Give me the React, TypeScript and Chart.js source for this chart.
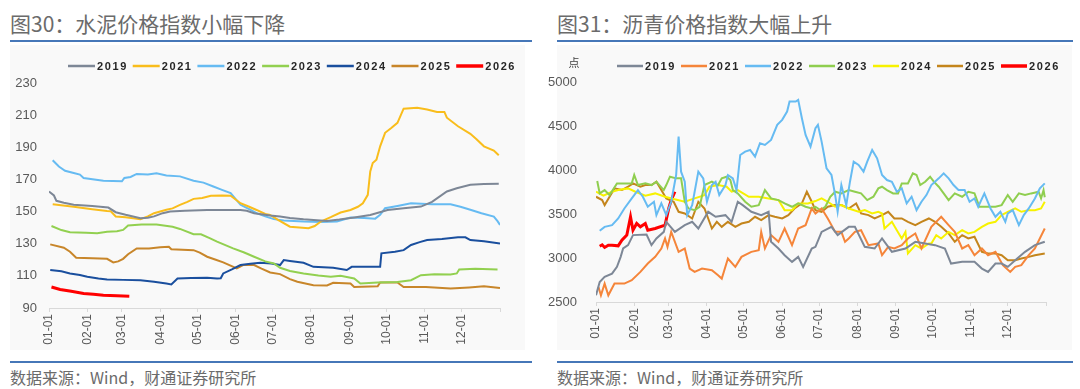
import React, { useEffect, useRef } from 'react';
import { Chart, registerables } from 'chart.js';

Chart.register(...registerables);

// ---------- shared axis data ----------
const monthDays = [0, 31, 59, 90, 120, 151, 181, 212, 243, 273, 304, 334, 365];
const monthLabels = ['01-01', '02-01', '03-01', '04-01', '05-01', '06-01', '07-01', '08-01', '09-01', '10-01', '11-01', '12-01', ''];
const seriesLabels = ['2019', '2021', '2022', '2023', '2024', '2025', '2026'];

// ---------- 图30 水泥价格指数 ([day of year, index]) ----------
const cementYTicks = { min: 90, max: 230, step: 20 };
const cement2019: [number, number][] = [[0,162.5],[4,160],[6,156.7],[12,155.5],[20,154.2],[35,153.5],[48,152.5],[54,149.6],[62,148],[74,145.9],[80,146.2],[85,147],[92,149],[98,150],[110,150.5],[128,151],[140,151],[155,151],[160,150.5],[166,149],[179,147.5],[187,147],[195,146],[206,145.2],[225,144.2],[235,145],[247,146.3],[260,147.9],[274,151],[287,152],[301,153.1],[310,156],[322,162.5],[330,164.5],[341,166.7],[352,167.2],[364,167.3]];
const cement2021: [number, number][] = [[3,154.6],[20,153],[35,151.5],[47,150.4],[50,150.2],[54,146.9],[62,146.5],[74,145.2],[80,147],[85,149],[95,151.1],[100,152],[106,154.2],[112,156],[117,157.9],[124,158.5],[131,159.8],[140,160],[147,159.8],[155,155.2],[162,153],[168,151],[175,148.5],[179,147.9],[185,145],[195,140.6],[210,139.6],[215,141],[220,143.8],[228,146.5],[236,149.4],[244,151],[250,153],[254,155.2],[258,160.4],[260,175],[262,180.2],[265,182.3],[268,190.6],[272,199],[277,202],[282,205.2],[287,214],[298,214.6],[306,213.5],[314,211.9],[320,212],[322,208.4],[331,203.1],[341,198.4],[346,195],[352,190.6],[360,188],[364,185]];
const cement2022: [number, number][] = [[3,181.9],[8,178],[13,175.4],[20,174],[25,173],[28,170.9],[44,169.2],[59,168.8],[61,170.9],[66,171.5],[71,173.4],[80,173],[87,173.8],[95,172.5],[106,171.9],[117,169.2],[125,168],[133,165.6],[140,163.5],[147,161.5],[155,154.2],[162,151.5],[168,149],[175,147],[182,145.3],[190,144.5],[206,143.8],[220,143.5],[233,143.8],[244,146.3],[255,146],[264,145.6],[268,148],[272,152.1],[282,153.5],[293,155.2],[310,154.6],[325,154.6],[333,153],[341,151.1],[350,149],[360,146.9],[363,144],[365,141.7]];
const cement2023: [number, number][] = [[2,141],[10,138.5],[17,137.1],[30,136.8],[39,136.5],[47,137.5],[55,137.8],[60,138.6],[64,141.3],[75,142],[87,141.9],[100,140.5],[106,139.2],[117,135.9],[123,135.9],[130,133.5],[136,131.3],[149,127.1],[158,124.5],[166,121.9],[175,119],[182,117.7],[187,115],[195,113],[206,111.5],[218,110.2],[228,109.4],[236,110],[247,108.4],[252,105.3],[266,105.9],[282,106.2],[293,107.3],[301,110.4],[312,111],[325,110.8],[330,111.5],[332,114],[345,114.4],[363,114]];
const cement2024: [number, number][] = [[1,113.6],[10,112.8],[17,111.5],[25,110.5],[31,109.4],[40,108.3],[47,107.7],[60,107.5],[74,107.3],[85,106.3],[95,105.2],[99,104.7],[104,108.4],[115,108.6],[128,108.8],[136,108.4],[139,108.5],[141,111.5],[148,114],[155,116.7],[163,117.6],[171,118.1],[180,117.7],[187,116.7],[190,119.8],[195,119.3],[206,118.1],[214,115.6],[230,115],[241,113.6],[245,115.6],[268,115.6],[269,124],[280,125],[287,126],[293,129.2],[300,131],[306,132.3],[318,133],[331,134],[337,134],[341,132.3],[352,131.5],[365,130.2]];
const cement2025: [number, number][] = [[1,129.6],[12,127.5],[17,125],[22,121.3],[35,121],[47,120.6],[52,118.4],[56,119],[60,120.6],[64,123.5],[71,127.1],[81,127.1],[90,127.8],[97,128.1],[99,126.6],[117,126],[122,124.5],[128,121.9],[135,120],[141,118.4],[152,114.6],[157,116.7],[166,116.7],[172,114.5],[179,112.1],[187,111.1],[195,108],[201,106.3],[214,104.2],[225,104],[230,105.7],[244,105.3],[247,103.1],[266,103.5],[268,105.9],[282,105.9],[287,103.1],[305,103],[325,102.1],[340,102.8],[352,103.5],[365,102.5]];
const cement2026: [number, number][] = [[2,103.1],[9,101.5],[18,100.4],[28,99],[36,98.5],[44,97.9],[55,97.6],[65,97.3]];

// ---------- 图31 沥青价格指数 ([day of year, 点]) ----------
const asphaltYTicks = { min: 2500, max: 5000, step: 500 };
const asphalt2019: [number, number][] = [[0,2576],[3,2728],[7,2785],[13,2823],[17,2899],[20,3013],[22,3108],[26,3146],[30,3260],[41,3267],[45,3146],[49,3222],[55,3297],[57,3411],[64,3297],[72,3373],[78,3411],[83,3335],[91,3525],[97,3468],[105,3487],[110,3411],[115,3639],[119,3601],[126,3525],[134,3487],[140,3525],[142,3184],[148,3108],[153,3032],[159,2956],[164,3013],[168,2899],[175,3108],[178,3127],[183,3297],[191,3354],[196,3260],[205,3354],[210,3354],[218,3127],[226,3108],[232,3222],[240,3070],[251,3108],[259,3184],[267,3165],[275,3146],[283,3108],[288,2937],[297,2956],[307,2956],[313,2880],[318,2842],[324,2937],[329,2937],[334,2899],[340,2975],[348,3070],[356,3146],[364,3184]];
const asphalt2021: [number, number][] = [[2,2671],[4,2576],[7,2709],[10,2576],[15,2709],[23,2709],[29,2747],[36,2842],[42,2937],[48,3013],[53,3108],[56,3222],[58,3127],[61,3297],[67,3070],[72,3108],[76,2880],[80,2842],[86,2880],[94,2861],[99,2804],[102,2766],[107,2994],[113,2899],[118,3013],[126,3070],[132,3089],[134,3297],[137,3108],[142,3260],[148,3184],[153,3335],[159,3146],[164,3335],[170,3373],[175,3563],[178,3506],[183,3563],[188,3449],[194,3297],[199,3297],[202,3184],[205,3222],[210,3297],[215,3316],[221,3146],[229,3165],[232,3032],[237,3127],[242,3108],[248,3146],[253,3222],[259,3279],[264,3108],[272,3354],[280,3468],[286,3373],[291,3297],[297,3108],[302,3146],[307,3032],[313,3108],[318,3032],[324,3070],[330,2918],[336,2842],[340,2899],[345,2918],[351,3032],[356,3108],[364,3335]];
const asphalt2022: [number, number][] = [[3,3309],[7,3354],[13,3373],[18,3449],[23,3563],[29,3677],[34,3772],[38,3696],[42,3582],[47,3639],[49,3487],[53,3620],[57,3487],[61,3639],[65,3943],[67,4380],[69,3981],[72,3867],[74,3487],[78,3601],[83,3981],[87,3905],[90,3639],[94,3829],[97,3867],[100,3715],[105,3829],[107,3943],[111,3905],[114,3772],[117,4171],[121,4209],[125,4228],[129,4152],[133,4304],[137,4285],[142,4342],[147,4513],[151,4570],[155,4664],[157,4778],[162,4778],[164,4797],[167,4588],[170,4399],[174,4266],[178,4475],[180,4513],[183,4323],[187,4019],[191,3943],[194,3715],[196,3525],[199,3829],[203,3601],[206,3867],[209,4095],[213,4057],[217,3981],[220,4095],[224,4228],[228,4133],[232,3943],[236,3886],[240,3867],[244,3753],[248,3791],[252,3620],[256,3696],[260,3544],[264,3639],[268,3715],[272,3829],[278,3905],[282,3962],[286,3905],[290,3829],[294,3772],[299,3772],[303,3639],[307,3677],[310,3582],[315,3734],[320,3563],[324,3468],[328,3525],[332,3411],[334,3506],[338,3544],[343,3373],[347,3487],[351,3563],[356,3677],[360,3791],[364,3848]];
const asphalt2023: [number, number][] = [[1,3875],[3,3734],[7,3772],[11,3715],[17,3848],[21,3848],[29,3848],[31,3943],[34,3829],[40,3848],[45,3829],[49,3867],[55,3772],[57,3829],[60,3924],[65,3905],[69,3905],[72,3639],[75,3563],[80,3544],[84,3582],[88,3829],[94,3867],[99,3829],[102,3905],[106,3924],[109,3886],[111,3772],[115,3734],[121,3639],[126,3582],[132,3601],[137,3772],[142,3677],[148,3658],[153,3620],[159,3582],[164,3620],[170,3582],[175,3563],[178,3582],[182,3544],[186,3582],[190,3696],[194,3753],[199,3734],[205,3772],[210,3753],[215,3734],[220,3658],[225,3696],[229,3791],[232,3810],[236,3772],[241,3734],[245,3734],[248,3848],[253,3848],[257,3962],[260,3943],[263,3829],[267,3867],[271,3924],[274,3867],[278,3810],[282,3734],[286,3658],[291,3734],[297,3696],[302,3753],[307,3734],[311,3582],[318,3582],[324,3582],[329,3601],[334,3715],[338,3639],[343,3734],[348,3715],[353,3734],[359,3753],[361,3677],[363,3772],[364,3690]];
const asphalt2024: [number, number][] = [[0,3753],[6,3708],[13,3753],[18,3772],[26,3791],[32,3753],[40,3708],[48,3734],[56,3696],[63,3670],[72,3639],[80,3677],[88,3715],[92,3810],[99,3829],[106,3810],[110,3753],[115,3772],[124,3696],[132,3696],[140,3677],[148,3658],[153,3544],[159,3544],[164,3620],[172,3620],[178,3647],[183,3677],[188,3639],[194,3582],[199,3601],[205,3563],[213,3525],[218,3544],[224,3506],[229,3525],[232,3506],[234,3335],[240,3411],[244,3316],[248,3222],[251,3297],[253,3051],[259,3146],[264,3108],[270,3165],[272,3165],[276,3260],[280,3222],[286,3297],[291,3260],[297,3316],[302,3279],[307,3297],[313,3354],[318,3392],[324,3411],[329,3487],[334,3525],[340,3563],[345,3525],[351,3544],[356,3544],[361,3563],[364,3639]];
const asphalt2025: [number, number][] = [[0,3696],[5,3658],[7,3601],[11,3696],[15,3791],[21,3772],[26,3810],[30,3848],[36,3810],[40,3829],[45,3829],[49,3867],[53,3772],[57,3677],[63,3639],[67,3525],[72,3506],[78,3449],[83,3639],[88,3563],[94,3335],[98,3411],[102,3354],[107,3411],[113,3354],[118,3392],[124,3411],[129,3468],[134,3430],[140,3487],[145,3468],[151,3449],[156,3487],[161,3563],[167,3620],[171,3753],[175,3639],[178,3544],[183,3525],[188,3582],[194,3601],[199,3601],[205,3563],[211,3620],[215,3506],[221,3487],[226,3449],[232,3487],[237,3525],[242,3449],[248,3449],[253,3411],[259,3373],[264,3411],[270,3449],[275,3411],[280,3354],[286,3279],[291,3184],[297,3260],[302,3222],[307,3241],[313,3070],[318,3051],[324,3051],[329,3032],[334,2975],[340,2975],[345,2994],[351,3013],[356,3032],[364,3051]];
const asphalt2026: [number, number][] = [[3,3134],[5,3150],[7,3120],[10,3146],[13,3146],[18,3138],[21,3203],[25,3260],[28,3468],[30,3316],[33,3392],[36,3354],[40,3392],[42,3316],[48,3335],[56,3373],[59,3563],[61,3658],[64,3753]];

const cementColors = ['#7d8796', '#f9bd1c', '#66bbf2', '#92d050', '#1a4f9e', '#c8862a', '#ff0000'];
const asphaltColors = ['#7d8796', '#f5853a', '#66bbf2', '#8fce4f', '#f7f200', '#c4851c', '#ff0000'];

const seriesLegend = {
  id: 'seriesLegend',
  afterDraw(chart: any, _args: any, opts: any) {
    const ctx = chart.ctx as CanvasRenderingContext2D;
    ctx.save();
    ctx.font = 'bold 11px "Liberation Sans", Arial, sans-serif';
    (ctx as any).letterSpacing = '1.6px';
    ctx.textBaseline = 'middle';
    ctx.textAlign = 'left';
    let x = opts.x;
    chart.data.datasets.forEach((ds: any) => {
      ctx.strokeStyle = ds.borderColor;
      ctx.lineWidth = ds.borderWidth + 0.5;
      ctx.beginPath();
      ctx.moveTo(x, opts.y);
      ctx.lineTo(x + opts.line, opts.y);
      ctx.stroke();
      ctx.fillStyle = '#262626';
      ctx.fillText(ds.label, x + opts.line + 2, opts.y + 0.5);
      x += opts.step;
    });
    (ctx as any).letterSpacing = '0px';
    if (opts.unit) {
      ctx.font = '11px "Noto Sans CJK SC", sans-serif';
      ctx.fillStyle = '#404040';
      ctx.textAlign = 'center';
      ctx.fillText(opts.unit, opts.unitX, opts.unitY);
    }
    ctx.restore();
  },
};

function makeConfig(
  series: [number, number][][],
  colors: string[],
  yt: { min: number; max: number; step: number },
  dims: { padTop: number; padRight: number; yWidth: number; xHeight: number; yPad: number },
  legend: any,
): any {
  return {
    type: 'line',
    data: {
      datasets: series.map((s, i) => ({
        label: seriesLabels[i],
        data: s.map(([x, y]) => ({ x, y })),
        borderColor: colors[i],
        borderWidth: i === 6 ? 3 : 2,
        pointRadius: 0,
        fill: false,
        tension: 0,
      })),
    },
    options: {
      responsive: false,
      animation: false,
      devicePixelRatio: 1,
      layout: { padding: { top: dims.padTop, right: dims.padRight, left: 0, bottom: 0 } },
      plugins: {
        legend: { display: false },
        tooltip: { enabled: false },
        seriesLegend: legend,
      },
      scales: {
        x: {
          type: 'linear',
          min: 0,
          max: 365,
          afterBuildTicks: (scale: any) => {
            scale.ticks = monthDays.map((v) => ({ value: v }));
          },
          afterFit: (scale: any) => {
            scale.height = dims.xHeight;
          },
          ticks: {
            autoSkip: false,
            maxRotation: 90,
            minRotation: 90,
            padding: 2,
            color: '#595959',
            font: { family: '"Liberation Sans", Arial, sans-serif', size: 12 },
            callback: (v: number) => {
              const i = monthDays.indexOf(v);
              return i >= 0 ? monthLabels[i] : '';
            },
          },
          grid: { display: true, drawOnChartArea: false, drawTicks: true, tickLength: 4, color: '#d9d9d9' },
          border: { display: true, color: '#d9d9d9' },
        },
        y: {
          min: yt.min,
          max: yt.max,
          afterFit: (scale: any) => {
            scale.width = dims.yWidth;
          },
          ticks: {
            stepSize: yt.step,
            padding: dims.yPad,
            color: '#595959',
            font: { family: '"Liberation Sans", Arial, sans-serif', size: 13 },
            callback: (v: number) => String(v),
          },
          grid: { display: false },
          border: { display: false },
        },
      },
    },
    plugins: [seriesLegend],
  };
}

function ChartCanvas({ config, width, height }: { config: any; width: number; height: number }) {
  const ref = useRef<HTMLCanvasElement>(null);
  useEffect(() => {
    if (!ref.current) return;
    const chart = new Chart(ref.current, config);
    return () => chart.destroy();
  }, [config]);
  return <canvas ref={ref} width={width} height={height} style={{ display: 'block', width, height }} />;
}

const cementConfig = makeConfig(
  [cement2019, cement2021, cement2022, cement2023, cement2024, cement2025, cement2026],
  cementColors,
  cementYTicks,
  { padTop: 38, padRight: 25, yWidth: 39, xHeight: 42, yPad: 4 },
  { x: 58, y: 21, step: 64.7, line: 27 },
);

const asphaltConfig = makeConfig(
  [asphalt2019, asphalt2021, asphalt2022, asphalt2023, asphalt2024, asphalt2025, asphalt2026],
  asphaltColors,
  asphaltYTicks,
  { padTop: 37, padRight: 26, yWidth: 49, xHeight: 48, yPad: 11 },
  { x: 70, y: 21, step: 64, line: 26, unit: '点', unitX: 27, unitY: 18 },
);

const titleStyle: React.CSSProperties = {
  position: 'absolute',
  top: 11,
  fontFamily: '"Noto Sans CJK SC", sans-serif',
  fontSize: 21,
  lineHeight: '24px',
  color: '#6b6b6b',
  whiteSpace: 'nowrap',
};
const sourceStyle: React.CSSProperties = {
  position: 'absolute',
  top: 367,
  fontFamily: '"Noto Sans CJK SC", sans-serif',
  fontSize: 16,
  lineHeight: '20px',
  color: '#6b6b6b',
  whiteSpace: 'nowrap',
};
const ruleStyle: React.CSSProperties = { position: 'absolute', height: 2, background: '#4677b8' };
const panelStyle: React.CSSProperties = { position: 'absolute', top: 45, width: 515, height: 305, background: '#f9f9f9' };

export default function App() {
  return (
    <div style={{ position: 'absolute', left: 0, top: 0, width: 1080, height: 389, background: '#fff', overflow: 'hidden' }}>
      <div style={{ ...titleStyle, left: 10 }}>图30：水泥价格指数小幅下降</div>
      <div style={{ ...titleStyle, left: 557 }}>图31：沥青价格指数大幅上升</div>
      <div style={{ ...ruleStyle, left: 10, width: 522, top: 40 }} />
      <div style={{ ...ruleStyle, left: 557, width: 516, top: 40 }} />
      <div style={{ ...panelStyle, left: 10 }} />
      <div style={{ ...panelStyle, left: 557 }} />
      <div style={{ position: 'absolute', left: 10, top: 45 }}>
        <ChartCanvas config={cementConfig} width={515} height={305} />
      </div>
      <div style={{ position: 'absolute', left: 547, top: 45 }}>
        <ChartCanvas config={asphaltConfig} width={525} height={305} />
      </div>
      <div style={{ ...ruleStyle, left: 10, width: 522, top: 361 }} />
      <div style={{ ...ruleStyle, left: 557, width: 516, top: 361 }} />
      <div style={{ ...sourceStyle, left: 10 }}>数据来源：Wind，财通证券研究所</div>
      <div style={{ ...sourceStyle, left: 557 }}>数据来源：Wind，财通证券研究所</div>
    </div>
  );
}
